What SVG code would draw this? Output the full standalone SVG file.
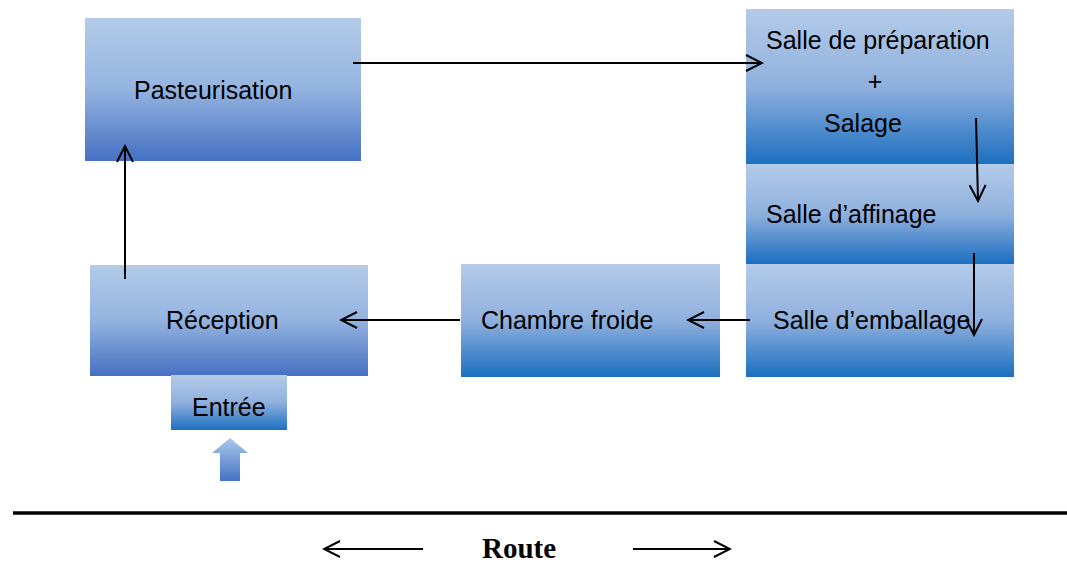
<svg xmlns="http://www.w3.org/2000/svg" width="1067" height="576" viewBox="0 0 1067 576">
<style>
.lbl{font-family:"Liberation Sans",Arial,sans-serif;font-size:25px;fill:#000}
.con{stroke:#000;stroke-width:2;fill:none}
</style>
<defs>
<linearGradient id="gA" x1="0" y1="0" x2="0" y2="1">
<stop offset="0" stop-color="#b4cbe9"/><stop offset="0.5" stop-color="#93b3df"/><stop offset="1" stop-color="#4670c3"/>
</linearGradient>
<linearGradient id="gB" x1="0" y1="0" x2="0" y2="1">
<stop offset="0" stop-color="#b4cbe9"/><stop offset="0.5" stop-color="#8fb0dd"/><stop offset="1" stop-color="#1c6fc0"/>
</linearGradient>
<linearGradient id="gC" x1="0" y1="0" x2="0" y2="1">
<stop offset="0" stop-color="#a9c8ea"/><stop offset="1" stop-color="#4672c4"/>
</linearGradient>
<marker id="ah" viewBox="0 0 20 20" refX="18" refY="10" markerWidth="20" markerHeight="20" markerUnits="userSpaceOnUse" orient="auto">
<path d="M2,2 L18,10 L2,18" fill="none" stroke="#000" stroke-width="2"/>
</marker>
</defs>
<g id="pasteurisation"><rect x="85" y="18" width="276" height="143" fill="url(#gA)"/><text class="lbl" x="134" y="99">Pasteurisation</text></g>
<g id="salle-preparation"><rect x="746" y="9" width="268" height="155" fill="url(#gB)"/><text class="lbl" x="766" y="49">Salle de préparation</text><text class="lbl" x="875" y="90" text-anchor="middle">+</text><text class="lbl" x="824" y="132">Salage</text></g>
<g id="salle-affinage"><rect x="746" y="164" width="268" height="100" fill="url(#gB)"/><text class="lbl" x="766" y="223">Salle d’affinage</text></g>
<g id="salle-emballage"><rect x="746" y="264" width="268" height="113" fill="url(#gB)"/><text class="lbl" x="773" y="329">Salle d’emballage</text></g>
<g id="chambre-froide"><rect x="461" y="264" width="259" height="113" fill="url(#gB)"/><text class="lbl" x="481" y="329">Chambre froide</text></g>
<g id="reception"><rect x="90" y="265" width="278" height="111" fill="url(#gA)"/><text class="lbl" x="166" y="329">Réception</text></g>
<g id="entree"><rect x="171" y="375" width="116" height="55" fill="url(#gB)"/><text class="lbl" x="192" y="416">Entrée</text></g>
<g id="entry-arrow"><path d="M230,438 L248,453 L240,453 L240,481 L220,481 L220,453 L212,453 Z" fill="url(#gC)"/></g>
<g id="connectors">
<line class="con" x1="353" y1="63" x2="762" y2="63" marker-end="url(#ah)"/>
<line class="con" x1="976" y1="118" x2="978" y2="201" marker-end="url(#ah)"/>
<line class="con" x1="974" y1="253" x2="974" y2="335" marker-end="url(#ah)"/>
<line class="con" x1="750" y1="320" x2="688" y2="320" marker-end="url(#ah)"/>
<line class="con" x1="460" y1="320" x2="341" y2="320" marker-end="url(#ah)"/>
<line class="con" x1="125" y1="279" x2="125" y2="146" marker-end="url(#ah)"/>
</g>
<g id="route">
<line x1="13" y1="513" x2="1067" y2="513" stroke="#000" stroke-width="3.5"/>
<line class="con" x1="423" y1="549" x2="324" y2="549" marker-end="url(#ah)"/>
<line class="con" x1="633" y1="549" x2="730" y2="549" marker-end="url(#ah)"/>
<text x="519" y="558" text-anchor="middle" font-family="'Liberation Serif','Times New Roman',serif" font-weight="bold" font-size="29">Route</text>
</g>
</svg>
